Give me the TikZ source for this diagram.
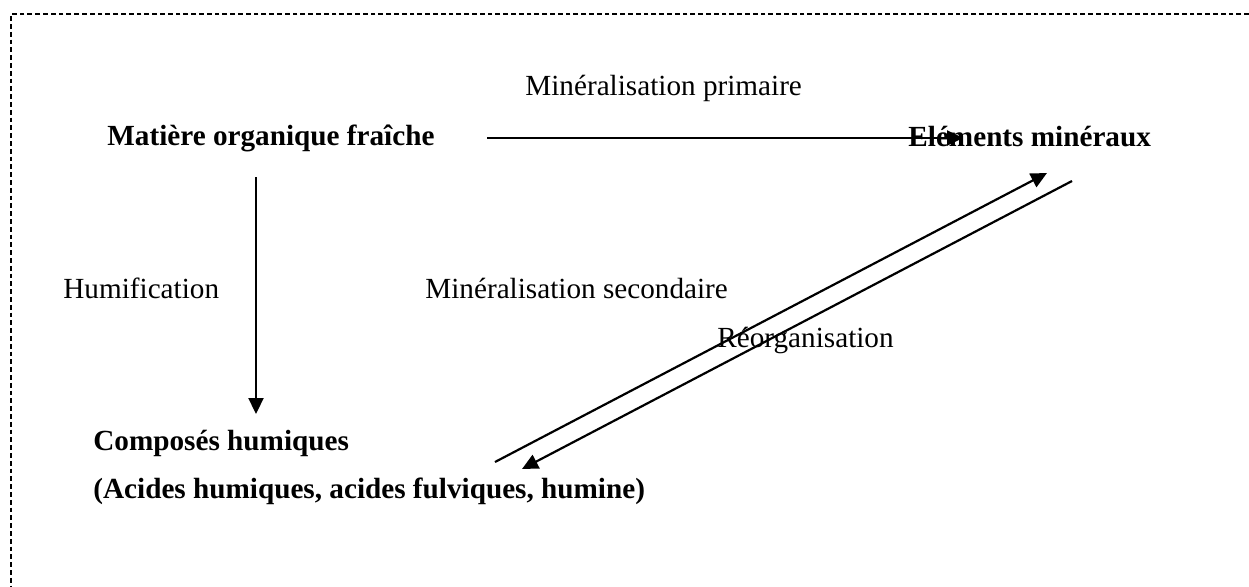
\documentclass[tikz,border=0pt]{standalone}
\usepackage{fontspec}
\setmainfont{Liberation Serif}
\usetikzlibrary{arrows.meta}
\tikzset{
  lbl/.style={anchor=base west, inner sep=0pt, font=\fontsize{14.6}{17}\selectfont},
  blbl/.style={lbl, font=\fontsize{14.6}{17}\selectfont\bfseries},
  flow/.style={line width=1.1pt, -{Triangle[length=8pt,width=7.5pt]}},
  frame/.style={line width=0.7pt, dash pattern=on 2.4pt off 1.5pt}
}
\begin{document}
\begin{tikzpicture}[x=0.5pt,y=-0.5pt]
        \useasboundingbox (0,0) rectangle (1249,586);
        \draw[frame] (1249,14) -- (11,14) -- (11,586);
        \node[lbl] (prim) at (525,95) {Minéralisation primaire};
        \node[blbl] (mof) at (107,145) {Matière organique fraîche};
        \node[blbl] (elem) at (908,146) {Eléments minéraux};
        \node[lbl] (humif) at (63,298) {Humification};
        \node[lbl] (minsec) at (425,298) {Minéralisation secondaire};
        \node[lbl] (reorg) at (717,347) {Réorganisation};
        \node[blbl] (comp) at (93,450) {Composés humiques};
        \node[blbl] (acides) at (93,498) {(Acides humiques, acides fulviques, humine)};
        \coordinate (hstart) at (487,138);
        \coordinate (hend) at (963,138);
        \coordinate (vstart) at (256,177);
        \coordinate (vend) at (256,414);
        \coordinate (upstart) at (495,462);
        \coordinate (upend) at (1047,173);
        \coordinate (downstart) at (1072,181);
        \coordinate (downend) at (522,469);
        \draw[flow] (hstart) -- (hend);
        \draw[flow] (vstart) -- (vend);
        \draw[flow] (upstart) -- (upend);
        \draw[flow] (downstart) -- (downend);
\end{tikzpicture}
\end{document}
